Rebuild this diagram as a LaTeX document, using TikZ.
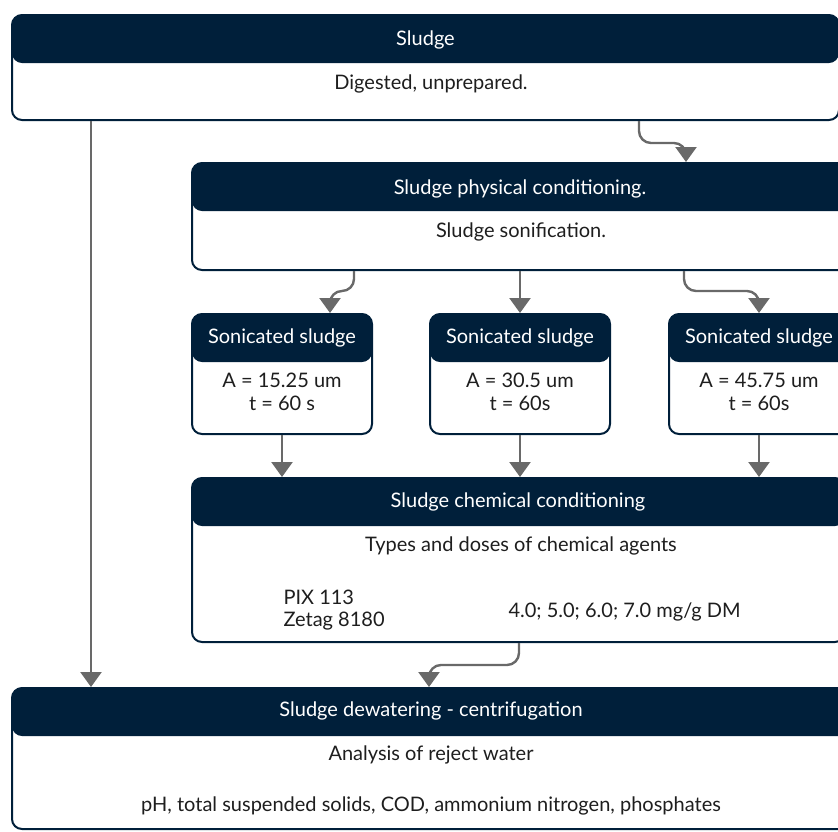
\documentclass[tikz,border=0pt]{standalone}
\usepackage{fontspec}
\setmainfont{Lato}
\usepackage{xcolor}
\usepackage{tikz}
\usetikzlibrary{arrows.meta, positioning, calc}

\definecolor{navy}{RGB}{0,31,58}
\definecolor{ink}{RGB}{30,30,30}
\definecolor{wire}{RGB}{105,105,105}

\begin{document}
\begin{tikzpicture}[
    x=1pt, y=-1pt,
    panel/.style={draw=navy, line width=2pt, rounded corners=10pt, fill=white, inner sep=0pt,
      path picture={\fill[navy] (path picture bounding box.north west) rectangle ([yshift=-48pt]path picture bounding box.north east);}},
    head/.style={text=white, font=\fontsize{20}{22}\selectfont},
    body/.style={text=ink, align=center, font=\fontsize{20}{22.5}\selectfont},
    arr/.style={-{Triangle[width=21pt, length=15pt]}, line width=2.4pt, wire, rounded corners=12pt},
  ]
    \useasboundingbox (0,0) rectangle (838,831);
    \clip (0,0) rectangle (838,831);

    % boxes
    \node[panel, minimum width=827pt, minimum height=105pt] (sludge) at (425.5,67.5) {};
    \node[panel, minimum width=656pt, minimum height=107pt] (phys) at (520,216.5) {};
    \node[panel, minimum width=180pt, minimum height=120pt] (son1) at (282,374) {};
    \node[panel, minimum width=180pt, minimum height=120pt] (son2) at (520,374) {};
    \node[panel, minimum width=180pt, minimum height=120pt] (son3) at (759,374) {};
    \node[panel, minimum width=653pt, minimum height=164pt] (chem) at (518.5,560) {};
    \node[panel, minimum width=838pt, minimum height=141pt] (dewater) at (431,758.5) {};

    % texts
    \node[head] (sludgeT) at (425.5,40) {Sludge};
    \node[body] (sludgeB) at (431,84) {Digested, unprepared.};
    \node[head] (physT) at (520,189) {Sludge physical conditioning.};
    \node[body] (physB) at (521,232) {Sludge sonification.};
    \node[head] (son1T) at (282,338) {Sonicated sludge};
    \node[body] (son1B) at (282,392) {A = 15.25 um\\t = 60 s};
    \node[head] (son2T) at (520,338) {Sonicated sludge};
    \node[body] (son2B) at (520,392) {A = 30.5 um\\t = 60s};
    \node[head] (son3T) at (759,338) {Sonicated sludge};
    \node[body] (son3B) at (759,392) {A = 45.75 um\\t = 60s};
    \node[head] (chemT) at (518,502) {Sludge chemical conditioning};
    \node[body] (chemB) at (521,546) {Types and doses of chemical agents};
    \node[body, align=left, anchor=west] (agents) at (280,610) {PIX 113\\Zetag 8180};
    \node[body, anchor=west] (doses) at (505,612) {4.0; 5.0; 6.0; 7.0 mg/g DM};
    \node[head] (dewaterT) at (431,711) {Sludge dewatering - centrifugation};
    \node[body] (dewaterB) at (431,755) {Analysis of reject water};
    \node[body] (params) at (431,806) {pH, total suspended solids, COD, ammonium nitrogen, phosphates};

    % connectors
    \draw[arr] ($(sludge.south west)+(80,0)$) -- ($(dewater.north west)+(80,0)$);
    \draw[arr] ($(sludge.south west)+(628,0)$) -- ++(0,22) -| ($(phys.north west)+(495,0)$);
    \draw[arr] ($(phys.south west)+(163,0)$) -- ++(0,20) -| ($(son1.north)+(48,0)$);
    \draw[arr] (phys.south) -- (son2.north);
    \draw[arr] ($(phys.south west)+(493,0)$) -- ++(0,20) -| (son3.north);
    \draw[arr] (son1.south) -- (son1.south |- chem.north);
    \draw[arr] (son2.south) -- (son2.south |- chem.north);
    \draw[arr] (son3.south) -- (son3.south |- chem.north);
    \draw[arr] ($(chem.south west)+(328,0)$) -- ++(0,22) -| ($(dewater.north west)+(418,0)$);
  \end{tikzpicture}
\end{document}
